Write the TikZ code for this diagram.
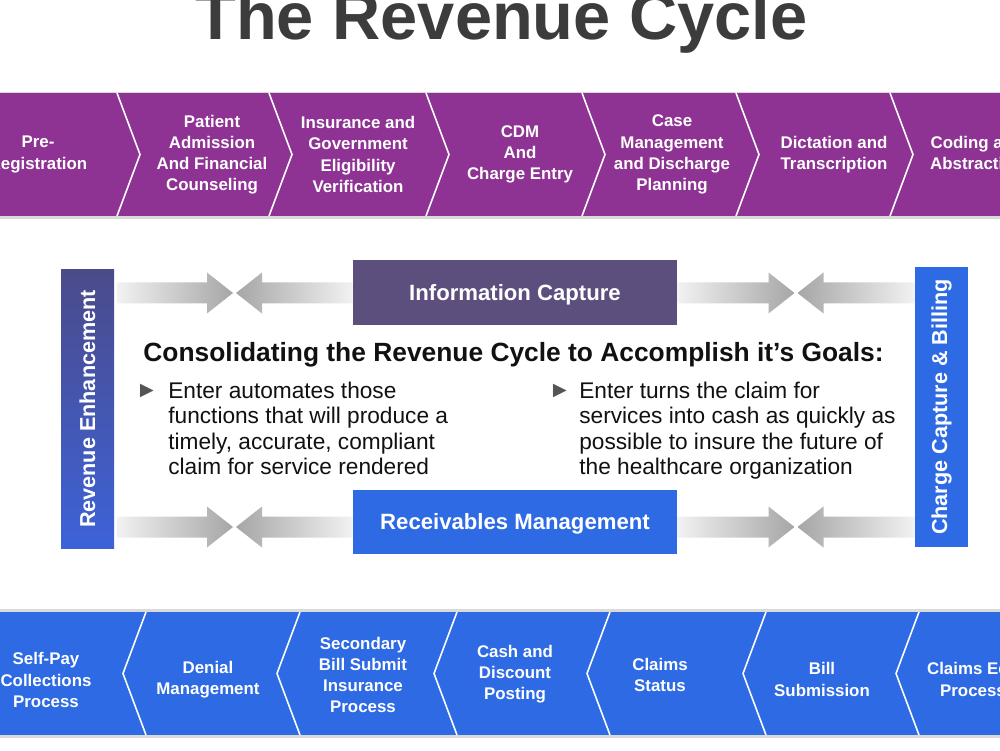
\documentclass[tikz,border=0pt]{standalone}
\usepackage{fontspec}
\setmainfont{Liberation Sans}
\usetikzlibrary{calc,positioning}
\definecolor{rcPurple}{HTML}{8E3393}
\definecolor{rcBlue}{HTML}{2D6AE3}
\definecolor{rcSlate}{HTML}{5C4F7E}
\definecolor{rcEnhTop}{HTML}{4B4B8A}
\definecolor{rcEnhBot}{HTML}{3D62D8}
\definecolor{rcTitle}{HTML}{3C3C3C}
\definecolor{rcInk}{HTML}{111111}
\definecolor{rcMark}{HTML}{555555}
\definecolor{rcShadow}{HTML}{DADADA}
\definecolor{rcTail}{HTML}{F2F2F2}
\definecolor{rcHead}{HTML}{A6A6A6}
\tikzset{
  rcstep/.style={
    text=white,
    align=center,
    inner sep=0pt,
    font=\bfseries\fontsize{9.6}{12}\selectfont
  },
  rcsep/.style={draw=white, line width=0.9pt, line join=miter},
  rcbar/.style={
    draw=none,
    fill=#1,
    minimum width=1.06cm,
    minimum height=5.58cm,
    inner sep=0pt,
    text=white,
    font=\bfseries\fontsize{12.3}{14}\selectfont
  },
  rcbox/.style={
    draw=none,
    fill=#1,
    minimum width=6.48cm,
    minimum height=1.28cm,
    inner sep=0pt,
    text depth=0pt,
    text=white,
    font=\bfseries\fontsize{12.6}{15}\selectfont
  },
  rcpoint/.style={
    anchor=north west,
    align=left,
    inner sep=0pt,
    text=rcInk,
    font=\fontsize{12.9}{14.5}\selectfont
  },
  rcmark/.style={inner sep=0pt, text=rcMark, font=\fontsize{13}{14}\selectfont},
  rcflowR/.style={left color=rcTail, right color=rcHead},
  rcflowL/.style={left color=rcHead, right color=rcTail}
}
% block arrow: #1 shading, #2 tail, #3 tip, #4 direction (1 right, -1 left)
\newcommand{\rcblockarrow}[4]{%
  \shade[#1] ($(#2)+(0,0.21)$) -- ($(#3)+({-(#4)*0.52},0.21)$) -- ($(#3)+({-(#4)*0.52},0.41)$)
    -- (#3) -- ($(#3)+({-(#4)*0.52},-0.41)$) -- ($(#3)+({-(#4)*0.52},-0.21)$)
    -- ($(#2)+(0,-0.21)$) -- cycle;}

\begin{document}
\begin{tikzpicture}
  \useasboundingbox (0,0) rectangle (20,15);
  \clip (0,0) rectangle (20,15);
  \fill[white] (0,0) rectangle (20,15);

  \node[anchor=base, text=rcTitle, inner sep=0pt, font=\bfseries\fontsize{38}{40}\selectfont] (title) at (10.03,14.2) {The Revenue Cycle};

  % front end of the cycle
  \fill[rcShadow] (-0.5,10.62) rectangle (20.5,13.16);
  \fill[rcPurple] (-0.5,10.68) rectangle (20.5,13.14);
  \foreach \x in {2.34,5.38,8.52,11.64,14.72,17.80}
    \draw[rcsep] (\x,13.14) -- (\x+0.46,11.91) -- (\x,10.68);

  \node[rcstep] (prereg) at (0.76,11.91) {Pre-\\Registration};
  \node[rcstep] (admit) at (4.24,11.91) {Patient\\Admission\\And Financial\\Counseling};
  \node[rcstep] (elig) at (7.16,11.91) {Insurance and\\Government\\Eligibility\\Verification};
  \node[rcstep] (cdm) at (10.40,11.91) {CDM\\And\\Charge Entry};
  \node[rcstep] (casemgmt) at (13.44,11.91) {Case\\Management\\and Discharge\\Planning};
  \node[rcstep] (dictation) at (16.68,11.91) {Dictation and\\Transcription};
  \node[rcstep] (coding) at (19.54,11.91) {Coding and\\Abstracting};

  % back end of the cycle
  \fill[rcShadow] (-0.5,0.24) rectangle (20.5,2.82);
  \fill[rcBlue] (-0.5,0.30) rectangle (20.5,2.76);
  \foreach \x in {2.92,6.00,9.14,12.20,15.32,18.38}
    \draw[rcsep] (\x,2.76) -- (\x-0.46,1.53) -- (\x,0.30);

  \node[rcstep] (selfpay) at (0.92,1.40) {Self-Pay\\Collections\\Process};
  \node[rcstep] (denial) at (4.16,1.41) {Denial\\Management};
  \node[rcstep] (secondary) at (7.26,1.50) {Secondary\\Bill Submit\\Insurance\\Process};
  \node[rcstep] (cashpost) at (10.30,1.52) {Cash and\\Discount\\Posting};
  \node[rcstep] (claimstat) at (13.20,1.50) {Claims\\Status};
  \node[rcstep] (billsub) at (16.44,1.41) {Bill\\Submission};
  \node[rcstep] (claimedit) at (19.46,1.41) {Claims Edit\\Process};

  % middle frame
  \node[rcbar=rcEnhBot, top color=rcEnhTop, bottom color=rcEnhBot] (revenh) at (1.75,6.82) {\rotatebox{90}{Revenue Enhancement}};
  \node[rcbar=rcBlue] (chgcap) at (18.83,6.86) {\rotatebox{90}{Charge Capture \& Billing}};
  \node[rcbox=rcSlate] (info) at (10.30,9.15) {Information Capture};
  \node[rcbox=rcBlue] (recv) at (10.30,4.57) {Receivables Management};

  \coordinate (uprow) at (0,9.14);
  \coordinate (lowrow) at (0,4.46);
  \coordinate (upleft) at (4.69,9.14);
  \coordinate (upright) at (15.92,9.14);
  \coordinate (lowleft) at (4.69,4.46);
  \coordinate (lowright) at (15.92,4.46);

  \rcblockarrow{rcflowR}{$(revenh.east |- uprow)+(0.05,0)$}{$(upleft)+(-0.03,0)$}{1}
  \rcblockarrow{rcflowL}{info.west |- uprow}{$(upleft)+(0.03,0)$}{-1}
  \rcblockarrow{rcflowR}{info.east |- uprow}{$(upright)+(-0.03,0)$}{1}
  \rcblockarrow{rcflowL}{chgcap.west |- uprow}{$(upright)+(0.03,0)$}{-1}
  \rcblockarrow{rcflowR}{$(revenh.east |- lowrow)+(0.05,0)$}{$(lowleft)+(-0.03,0)$}{1}
  \rcblockarrow{rcflowL}{recv.west |- lowrow}{$(lowleft)+(0.03,0)$}{-1}
  \rcblockarrow{rcflowR}{recv.east |- lowrow}{$(lowright)+(-0.03,0)$}{1}
  \rcblockarrow{rcflowL}{chgcap.west |- lowrow}{$(lowright)+(0.03,0)$}{-1}

  \node[text=rcInk, inner sep=0pt, font=\bfseries\fontsize{15}{18}\selectfont] (goals) at (10.27,7.90) {Consolidating the Revenue Cycle to Accomplish it’s Goals:};

  \node[rcmark] (markleft) at (2.94,7.19) {►};
  \node[rcpoint] (automate) at (3.36,7.37) {Enter automates those\\functions that will produce a\\timely, accurate, compliant\\claim for service rendered};
  \node[rcmark] (markright) at (11.20,7.19) {►};
  \node[rcpoint] (cash) at (11.58,7.37) {Enter turns the claim for\\services into cash as quickly as\\possible to insure the future of\\the healthcare organization};
\end{tikzpicture}
\end{document}
